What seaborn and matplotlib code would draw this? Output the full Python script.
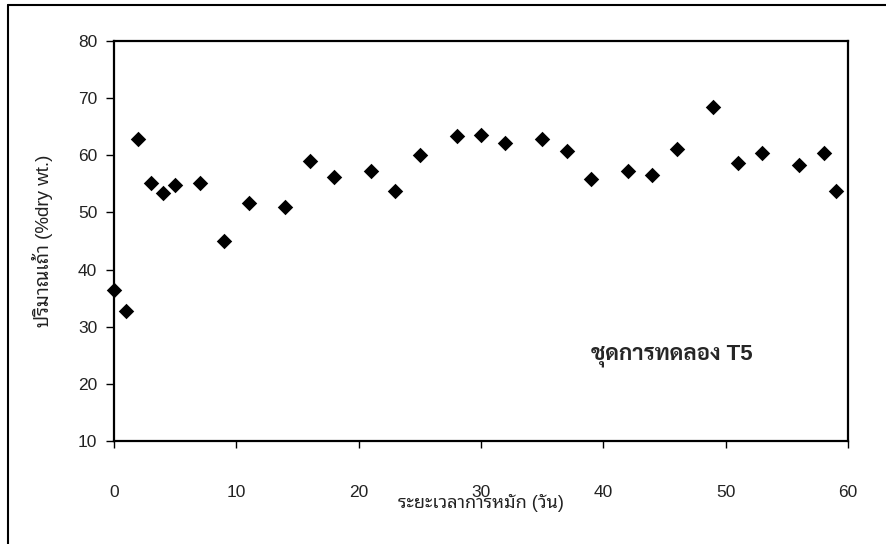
import matplotlib
matplotlib.use("Agg")
import matplotlib.pyplot as plt
from matplotlib import font_manager
from matplotlib.lines import Line2D
import pandas as pd
import seaborn as sns

# fermentation time (days) and ash content (% dry wt.), treatment T5
days = [0, 1, 2, 3, 4, 5, 7, 9, 11, 14, 16, 18, 21, 23, 25, 28,
        30, 32, 35, 37, 39, 42, 44, 46, 49, 51, 53, 56, 58, 59]
ash = [36.5, 32.7, 62.9, 55.1, 53.4, 54.8, 55.1, 45.0, 51.7, 51.0, 59.0, 56.2, 57.3, 53.8, 60.1, 63.3,
       63.6, 62.2, 62.9, 60.8, 55.8, 57.3, 56.6, 61.1, 68.5, 58.7, 60.4, 58.3, 60.4, 53.7]

x_ticks = [0, 10, 20, 30, 40, 50, 60]
y_ticks = [10, 20, 30, 40, 50, 60, 70, 80]

df = pd.DataFrame({"day": days, "ash": ash})

sns.set_theme(style="white")

# pick Thai-capable fonts that are installed (one with a real bold face for the note)
candidates = ["Noto Sans Thai Looped", "Noto Sans Thai", "Sarabun", "Anuphan", "Bai Jamjuree"]
names = {f.name for f in font_manager.fontManager.ttflist}
bold_names = {f.name for f in font_manager.fontManager.ttflist
              if f.weight in (600, 700, 800, "bold", "semibold")}
thai = next((n for n in candidates if n in names), None)
thai_bold = next((n for n in candidates if n in bold_names), thai)
fams = ["Liberation Sans"] + ([thai] if thai else []) + ["DejaVu Sans"]
fams_bold = ["Liberation Sans"] + ([thai_bold] if thai_bold else []) + ["DejaVu Sans"]
plt.rcParams["font.family"] = fams

fig = plt.figure(figsize=(8.86, 5.44), dpi=100)
ax = fig.add_axes([114 / 886, 1 - 441 / 544, (848 - 114) / 886, 400 / 544])

sns.scatterplot(data=df, x="day", y="ash", marker="D", s=62, color="black",
                edgecolor="black", linewidth=0, ax=ax, clip_on=False, zorder=5)

ax.set_xlim(0, 60)
ax.set_ylim(10, 80)
ax.set_xticks(x_ticks)
ax.set_yticks(y_ticks)
for sp in ax.spines.values():
    sp.set_visible(True)
    sp.set_color("black")
    sp.set_linewidth(1.6)
ax.tick_params(axis="y", direction="out", length=6, width=1, color="black",
               labelsize=12.5, pad=6, labelcolor="#222222", left=True)
ax.tick_params(axis="x", direction="out", length=5, width=1, color="black",
               labelsize=12.5, pad=27, labelcolor="#222222", bottom=True)

ax.set_xlabel("ระยะเวลาการหมัก (วัน)", fontsize=13, labelpad=-5, color="#222222")
ax.set_ylabel("ปริมาณเถ้า (%dry wt.)", fontsize=13.5, labelpad=18, color="#222222")

ax.text(45.6, 25.0, "ชุดการทดลอง T5", fontsize=16, fontweight="bold", family=fams_bold,
        ha="center", va="center")

# outer chart frame (top and left edges)
fig.add_artist(Line2D([8 / 886, 1], [1 - 5 / 544, 1 - 5 / 544], transform=fig.transFigure, color="black", lw=1.5))
fig.add_artist(Line2D([8 / 886, 8 / 886], [0, 1 - 5 / 544], transform=fig.transFigure, color="black", lw=1.5))

fig.savefig("out.png", dpi=100)
